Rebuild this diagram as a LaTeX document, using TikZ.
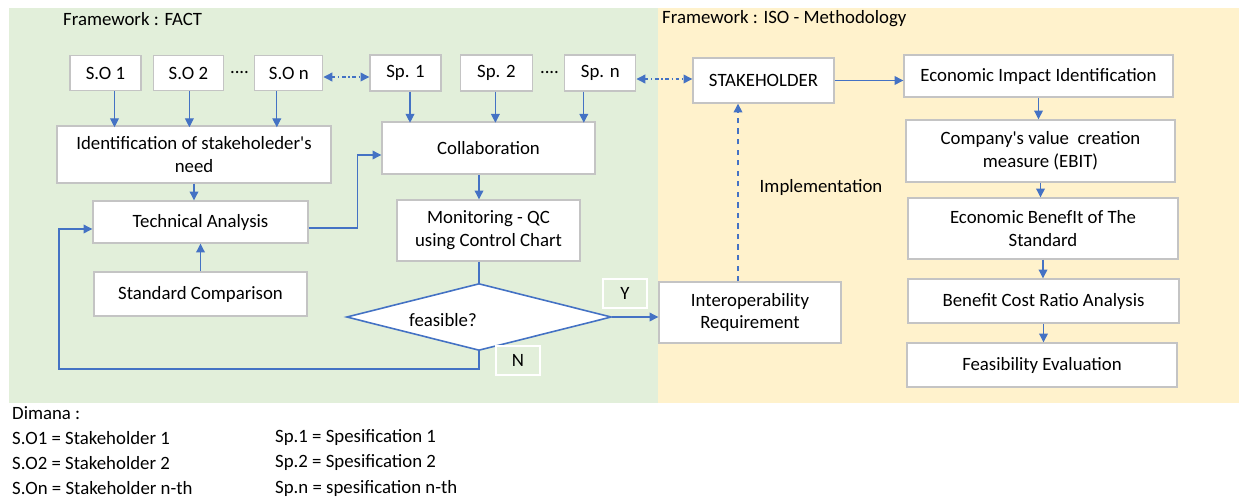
\documentclass[tikz,border=0pt]{standalone}
\usepackage{fontspec}
\setmainfont{Carlito}
\usepackage{xcolor}
\usetikzlibrary{positioning, shapes.geometric, arrows.meta}
\definecolor{factgreen}{HTML}{E2EFDA}
\definecolor{isoyellow}{HTML}{FFF2CC}
\definecolor{flowblue}{HTML}{4472C4}
\definecolor{boxgray}{HTML}{C4C4C4}
\tikzset{block/.style={draw=boxgray, line width=0.8pt, fill=white, align=center, inner sep=2pt},
smallblock/.style={block, minimum width=1.42cm, minimum height=0.7cm},
line/.style={-{Triangle[length=5pt,width=5pt]}, draw=flowblue, line width=0.6pt},
link/.style={{Triangle[length=5pt,width=5pt]}-{Triangle[length=5pt,width=5pt]}, draw=flowblue, line width=0.7pt, dash pattern=on 2pt off 1.6pt on 0.6pt off 1.6pt},
tag/.style={draw=white, line width=0.8pt, minimum width=0.88cm, minimum height=0.58cm}
}

\begin{document}
\begin{tikzpicture}[x=0.02cm, y=-0.02cm, font=\fontsize{10.7pt}{13pt}\selectfont]
\useasboundingbox (0,0) rectangle (1239,498);
% the two framework panels
\fill[factgreen] (9,8) rectangle (658,403);
\fill[isoyellow] (658,8) rectangle (1239,403);
\node[anchor=west] (fact) at (57,19) {Framework : FACT};
\node[anchor=west] (iso) at (656,19) {Framework : ISO - Methodology};

% stakeholders and specifications
\node[smallblock] (so1) at (105.5,73) {S.O 1};
\node[smallblock, minimum width=1.4cm, right=0.22cm of so1] (so2) {S.O 2};
\node[smallblock, minimum width=1.36cm, right=0.6cm of so2] (son) {S.O n};
\node (dots1) at (239.5,73) {....};
\node[smallblock, minimum height=0.72cm] (sp1) at (405.5,73) {Sp. 1};
\node[smallblock, minimum width=1.44cm, minimum height=0.72cm, right=0.36cm of sp1] (sp2) {Sp. 2};
\node[smallblock, minimum height=0.72cm, right=0.62cm of sp2] (spn) {Sp. n};
\node (dots2) at (549.5,73) {....};

% FACT side
\node[block, minimum width=5.48cm, minimum height=1.14cm] (ident) at (194,154.5) {Identification of stakeholeder\textquotesingle s\\need};
\node[block, minimum width=4.3cm, minimum height=0.84cm] (tech) at (200.5,222) {Technical Analysis};
\node[block, minimum width=4.26cm, minimum height=0.88cm] (stdcmp) at (200.5,294) {Standard Comparison};
\node[block, minimum width=4.26cm, minimum height=1.04cm] (collab) at (488.5,148) {Collaboration};
\node[block, minimum width=3.66cm, minimum height=1.22cm] (monitor) at (488.5,230.5) {Monitoring - QC\\using Control Chart};
\node[diamond, draw=flowblue, line width=0.9pt, fill=white, inner sep=0pt, minimum width=5.3cm, minimum height=1.34cm,
  label={[xshift=-0.72cm, yshift=-0.06cm]center:feasible?}] (dec) at (479,317) {};
\node[tag] (ytag) at (625,293.5) {Y};
\node[tag] (ntag) at (518,360.5) {N};

% ISO side
\node[block, minimum width=3.64cm, minimum height=1.22cm] (interop) at (750,312.5) {Interoperability\\Requirement};
\node[block, minimum width=2.82cm, minimum height=0.9cm] (stake) at (763.5,80.5) {STAKEHOLDER};
\node[block, minimum width=5.38cm, minimum height=0.84cm] (econ) at (1038.5,76) {Economic Impact Identification};
\node[block, minimum width=5.38cm, minimum height=1.24cm] (ebit) at (1040.5,151) {Company\textquotesingle s value\ \ creation\\measure (EBIT)};
\node[block, minimum width=5.4cm, minimum height=1.22cm] (benefit) at (1043,228.5) {Economic BenefIt of The\\Standard};
\node[block, minimum width=5.42cm, minimum height=0.88cm] (bcr) at (1043.5,301) {Benefit Cost Ratio Analysis};
\node[block, minimum width=5.4cm, minimum height=0.88cm] (feas) at (1042,365) {Feasibility Evaluation};
\node (impl) at (821,187) {Implementation};

% arrows
\foreach \s/\dx in {so1/9, so2/1, son/-12}
  \draw[line] ([xshift=\dx*0.02cm]\s.south) -- ++(0,36);
\foreach \s/\dx in {sp1/4.5, sp2/-1, spn/-16.5}
  \draw[line] ([xshift=\dx*0.02cm]\s.south) -- ++(0,31);
\draw[line] (ident.south) -- (ident.south |- tech.north);
\draw[line] (stdcmp.north) -- (stdcmp.north |- tech.south);
\draw[line] ([yshift=-0.12cm]tech.east) -- ++(49,0) |- ([yshift=-0.14cm]collab.west);
\draw[line] (collab.south -| dec.north) -- (monitor.north -| dec.north);
\draw[flowblue, line width=0.6pt] (monitor.south -| dec.north) -- (dec.north);
\draw[line] (dec.east) -- (dec.east -| interop.west);
\coordinate (back) at (59,369);
\draw[line] (dec.south) |- (back) |- ([yshift=-0.14cm]tech.west);
\draw[link] ([yshift=-0.08cm]son.east) -- ([yshift=-0.08cm]son.east -| sp1.west);
\draw[link] ([yshift=-0.12cm]spn.east) -- ([yshift=-0.12cm]spn.east -| stake.west);
\coordinate (implfoot) at ([xshift=-0.24cm]interop.north);
\draw[line, dashed, line width=0.8pt] (implfoot) -- (implfoot |- stake.south);
\draw[line] (stake.east) -- (stake.east -| econ.west);
\foreach \a/\b in {econ/ebit, ebit/benefit, benefit/bcr, bcr/feas}
  \draw[line] (\a.south) -- (\a.south |- \b.north);

% legend
\node[anchor=west] (where) at (6,413) {Dimana :};
\foreach \so/\sp [count=\r] in {{S.O1 = Stakeholder 1}/{Sp.1 = Spesification 1},
  {S.O2 = Stakeholder 2}/{Sp.2 = Spesification 2}, {S.On = Stakeholder n-th}/{Sp.n = spesification n-th}} {
  \node[anchor=west] (sokey\r) at (6,413+25*\r) {\so};
  \node[anchor=west] (spkey\r) at (269,413+25*\r) {\sp};
}
\end{tikzpicture}
\end{document}
